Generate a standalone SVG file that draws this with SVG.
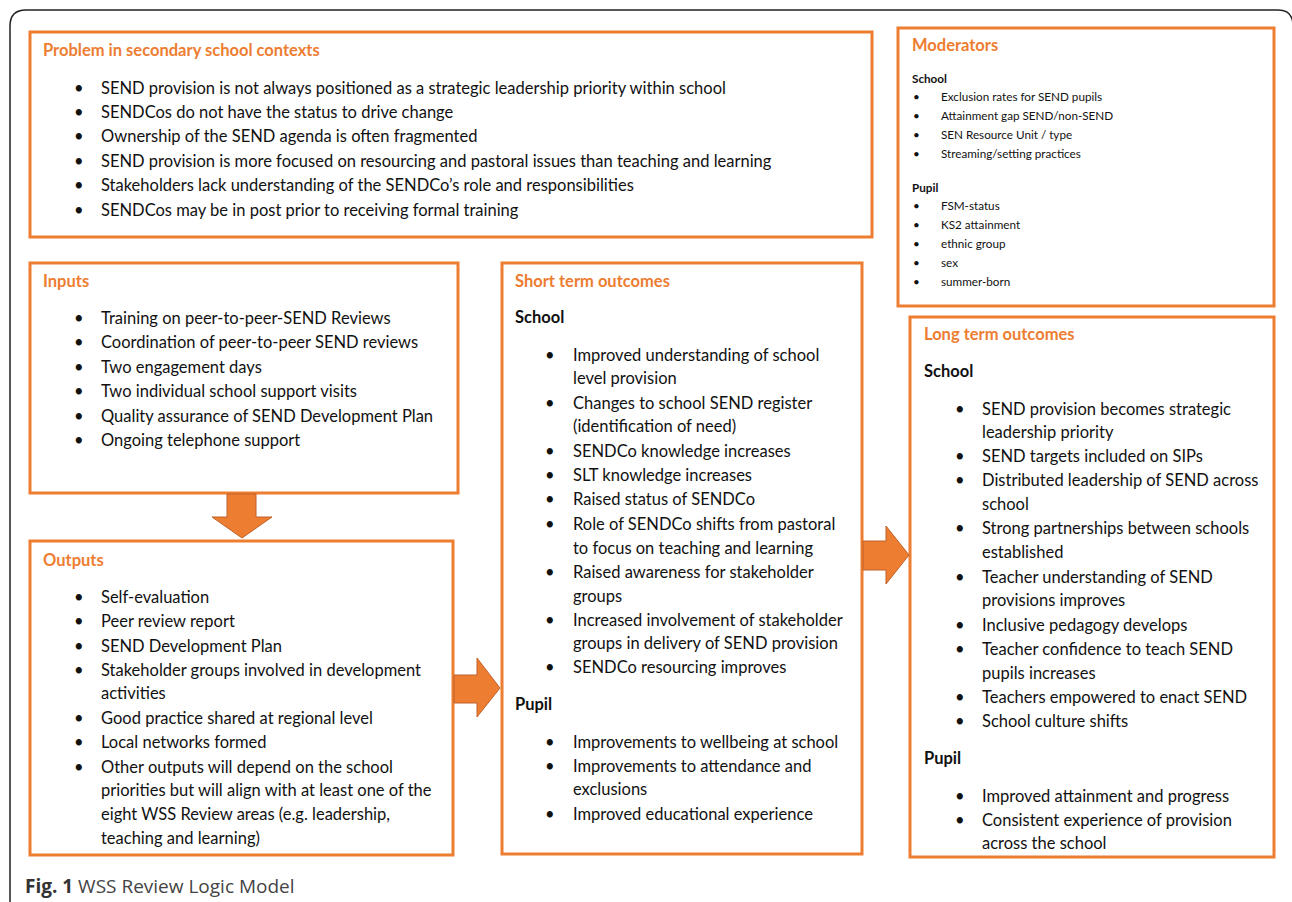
<svg xmlns="http://www.w3.org/2000/svg" width="1292" height="902" viewBox="0 0 1292 902">
<style>
.box{fill:#fff;stroke:#ED7D31;stroke-width:3}
.t{font-family:Lato,"Liberation Sans",sans-serif;font-size:16.5px;fill:#111}
.h{font-family:Lato,"Liberation Sans",sans-serif;font-size:16.5px;font-weight:bold;fill:#ED7D31}
.b{font-family:Lato,"Liberation Sans",sans-serif;font-size:16.5px;font-weight:bold;fill:#111}
.s{font-family:Lato,"Liberation Sans",sans-serif;font-size:11.7px;fill:#111}
.sb{font-family:Lato,"Liberation Sans",sans-serif;font-size:11.7px;font-weight:bold;fill:#111}
.arr{fill:#ED7D31;stroke:#C0612A;stroke-width:1}
</style>
<rect width="1292" height="902" fill="#fff"/>
<path d="M10,902 V26 Q10,10 26,10 H1278 Q1293,10 1293,26 V902" fill="none" stroke="#222" stroke-width="1.5"/>

<g id="problem">
<rect class="box" x="30" y="32" width="842" height="205"/>
<text class="h" x="43" y="56">Problem in secondary school contexts</text>
<g class="t">
<text x="74" y="94">•</text><text x="101" y="94">SEND provision is not always positioned as a strategic leadership priority within school</text>
<text x="74" y="118">•</text><text x="101" y="118">SENDCos do not have the status to drive change</text>
<text x="74" y="142">•</text><text x="101" y="142">Ownership of the SEND agenda is often fragmented</text>
<text x="74" y="167">•</text><text x="101" y="167">SEND provision is more focused on resourcing and pastoral issues than teaching and learning</text>
<text x="74" y="191">•</text><text x="101" y="191">Stakeholders lack understanding of the SENDCo’s role and responsibilities</text>
<text x="74" y="216">•</text><text x="101" y="216">SENDCos may be in post prior to receiving formal training</text>
</g>
</g>

<g id="moderators">
<rect class="box" x="898" y="28" width="376" height="278"/>
<text class="h" x="912" y="51">Moderators</text>
<text class="sb" x="912" y="83">School</text>
<g class="s">
<text x="913" y="101">•</text><text x="941" y="101">Exclusion rates for SEND pupils</text>
<text x="913" y="120">•</text><text x="941" y="120">Attainment gap SEND/non-SEND</text>
<text x="913" y="139">•</text><text x="941" y="139">SEN Resource Unit / type</text>
<text x="913" y="158">•</text><text x="941" y="158">Streaming/setting practices</text>
</g>
<text class="sb" x="912" y="192">Pupil</text>
<g class="s">
<text x="913" y="210">•</text><text x="941" y="210">FSM-status</text>
<text x="913" y="229">•</text><text x="941" y="229">KS2 attainment</text>
<text x="913" y="248">•</text><text x="941" y="248">ethnic group</text>
<text x="913" y="267">•</text><text x="941" y="267">sex</text>
<text x="913" y="286">•</text><text x="941" y="286">summer-born</text>
</g>
</g>

<g id="inputs">
<rect class="box" x="30" y="263" width="428" height="230"/>
<text class="h" x="43" y="287">Inputs</text>
<g class="t">
<text x="74" y="324">•</text><text x="101" y="324">Training on peer-to-peer-SEND Reviews</text>
<text x="74" y="348">•</text><text x="101" y="348">Coordination of peer-to-peer SEND reviews</text>
<text x="74" y="373">•</text><text x="101" y="373">Two engagement days</text>
<text x="74" y="397">•</text><text x="101" y="397">Two individual school support visits</text>
<text x="74" y="422">•</text><text x="101" y="422">Quality assurance of SEND Development Plan</text>
<text x="74" y="446">•</text><text x="101" y="446">Ongoing telephone support</text>
</g>
</g>

<g id="outputs">
<rect class="box" x="30" y="541" width="423" height="314"/>
<text class="h" x="43" y="566">Outputs</text>
<g class="t">
<text x="74" y="603">•</text><text x="101" y="603">Self-evaluation</text>
<text x="74" y="627">•</text><text x="101" y="627">Peer review report</text>
<text x="74" y="652">•</text><text x="101" y="652">SEND Development Plan</text>
<text x="74" y="676">•</text><text x="101" y="676">Stakeholder groups involved in development</text>
<text x="101" y="699">activities</text>
<text x="74" y="724">•</text><text x="101" y="724">Good practice shared at regional level</text>
<text x="74" y="748">•</text><text x="101" y="748">Local networks formed</text>
<text x="74" y="773">•</text><text x="101" y="773">Other outputs will depend on the school</text>
<text x="101" y="796">priorities but will align with at least one of the</text>
<text x="101" y="820">eight WSS Review areas (e.g. leadership,</text>
<text x="101" y="844">teaching and learning)</text>
</g>
</g>

<g id="short-term">
<rect class="box" x="502" y="263" width="360" height="591"/>
<text class="h" x="515" y="287">Short term outcomes</text>
<text class="b" x="515" y="323">School</text>
<g class="t">
<text x="545" y="361">•</text><text x="573" y="361">Improved understanding of school</text>
<text x="573" y="384">level provision</text>
<text x="545" y="409">•</text><text x="573" y="409">Changes to school SEND register</text>
<text x="573" y="432">(identification of need)</text>
<text x="545" y="457">•</text><text x="573" y="457">SENDCo knowledge increases</text>
<text x="545" y="481">•</text><text x="573" y="481">SLT knowledge increases</text>
<text x="545" y="505">•</text><text x="573" y="505">Raised status of SENDCo</text>
<text x="545" y="530">•</text><text x="573" y="530">Role of SENDCo shifts from pastoral</text>
<text x="573" y="554">to focus on teaching and learning</text>
<text x="545" y="578">•</text><text x="573" y="578">Raised awareness for stakeholder</text>
<text x="573" y="602">groups</text>
<text x="545" y="626">•</text><text x="573" y="626">Increased involvement of stakeholder</text>
<text x="573" y="649">groups in delivery of SEND provision</text>
<text x="545" y="673">•</text><text x="573" y="673">SENDCo resourcing improves</text>
</g>
<text class="b" x="515" y="710">Pupil</text>
<g class="t">
<text x="545" y="748">•</text><text x="573" y="748">Improvements to wellbeing at school</text>
<text x="545" y="772">•</text><text x="573" y="772">Improvements to attendance and</text>
<text x="573" y="795">exclusions</text>
<text x="545" y="820">•</text><text x="573" y="820">Improved educational experience</text>
</g>
</g>

<g id="long-term">
<rect class="box" x="910" y="317" width="364" height="540"/>
<text class="h" x="924" y="340">Long term outcomes</text>
<text class="b" x="924" y="377">School</text>
<g class="t">
<text x="955" y="415">•</text><text x="982" y="415">SEND provision becomes strategic</text>
<text x="982" y="438">leadership priority</text>
<text x="955" y="462">•</text><text x="982" y="462">SEND targets included on SIPs</text>
<text x="955" y="486">•</text><text x="982" y="486">Distributed leadership of SEND across</text>
<text x="982" y="510">school</text>
<text x="955" y="534">•</text><text x="982" y="534">Strong partnerships between schools</text>
<text x="982" y="558">established</text>
<text x="955" y="583">•</text><text x="982" y="583">Teacher understanding of SEND</text>
<text x="982" y="606">provisions improves</text>
<text x="955" y="631">•</text><text x="982" y="631">Inclusive pedagogy develops</text>
<text x="955" y="655">•</text><text x="982" y="655">Teacher confidence to teach SEND</text>
<text x="982" y="679">pupils increases</text>
<text x="955" y="703">•</text><text x="982" y="703">Teachers empowered to enact SEND</text>
<text x="955" y="727">•</text><text x="982" y="727">School culture shifts</text>
</g>
<text class="b" x="924" y="764">Pupil</text>
<g class="t">
<text x="955" y="802">•</text><text x="982" y="802">Improved attainment and progress</text>
<text x="955" y="826">•</text><text x="982" y="826">Consistent experience of provision</text>
<text x="982" y="849">across the school</text>
</g>
</g>

<g id="connectors">
<path class="arr" d="M227,494 H256 V517 H272 L242,538 L212,517 H227 Z"/>
<path class="arr" d="M454,675 H477 V658 L500,688 L477,717 V703 H454 Z"/>
<path class="arr" d="M863,541 H886 V526 L909,555 L886,584 V570 H863 Z"/>
</g>

<g id="caption">
<text x="25" y="893" font-family="'Open Sans','Liberation Sans',sans-serif" font-size="19px" fill="#444"><tspan font-weight="bold" fill="#333">Fig. 1</tspan> WSS Review Logic Model</text>
</g>
</svg>
